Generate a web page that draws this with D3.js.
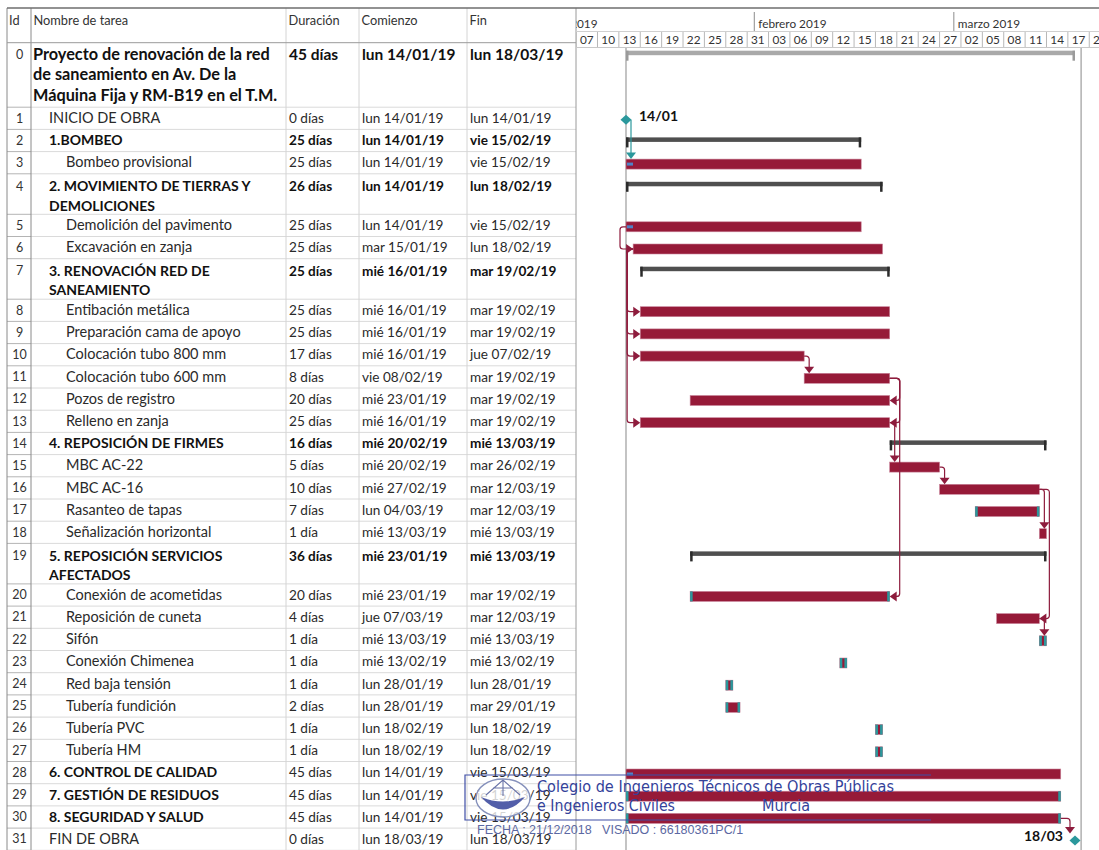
<!DOCTYPE html>
<html>
<head>
<meta charset="utf-8">
<script src="https://cdn.jsdelivr.net/npm/d3@7"></script>
<style>
  body { margin: 0; background: #fff; }
  svg { display: block; font-family: Lato, "Open Sans", sans-serif; }
</style>
</head>
<body>
<div id="page"></div>
<script>
// ---- data ----
const names = [
  "Proyecto de renovación de la red\nde saneamiento en Av. De la\nMáquina Fija y RM-B19 en el T.M.",
  "INICIO DE OBRA", "1.BOMBEO", "Bombeo provisional",
  "2. MOVIMIENTO DE TIERRAS Y\nDEMOLICIONES", "Demolición del pavimento", "Excavación en zanja",
  "3. RENOVACIÓN RED DE\nSANEAMIENTO", "Entibación metálica", "Preparación cama de apoyo",
  "Colocación tubo 800 mm", "Colocación tubo 600 mm", "Pozos de registro", "Relleno en zanja",
  "4. REPOSICIÓN DE FIRMES", "MBC AC-22", "MBC AC-16", "Rasanteo de tapas", "Señalización horizontal",
  "5. REPOSICIÓN SERVICIOS\nAFECTADOS", "Conexión de acometidas", "Reposición de cuneta", "Sifón",
  "Conexión Chimenea", "Red baja tensión", "Tubería fundición", "Tubería PVC", "Tubería HM",
  "6. CONTROL DE CALIDAD", "7. GESTIÓN DE RESIDUOS", "8. SEGURIDAD Y SALUD", "FIN DE OBRA"
];
const levels = [0,1,1,2,1,2,2,1,2,2,2,2,2,2,1,2,2,2,2,1,2,2,2,2,2,2,2,2,1,1,1,1];
const durations = [
  "45 días","0 días","25 días","25 días","26 días","25 días","25 días","25 días","25 días","25 días",
  "17 días","8 días","20 días","25 días","16 días","5 días","10 días","7 días","1 día","36 días",
  "20 días","4 días","1 día","1 día","1 día","2 días","1 día","1 día","45 días","45 días","45 días","0 días"
];
const starts = [
  "lun 14/01/19","lun 14/01/19","lun 14/01/19","lun 14/01/19","lun 14/01/19","lun 14/01/19","mar 15/01/19",
  "mié 16/01/19","mié 16/01/19","mié 16/01/19","mié 16/01/19","vie 08/02/19","mié 23/01/19","mié 16/01/19",
  "mié 20/02/19","mié 20/02/19","mié 27/02/19","lun 04/03/19","mié 13/03/19","mié 23/01/19","mié 23/01/19",
  "jue 07/03/19","mié 13/03/19","mié 13/02/19","lun 28/01/19","lun 28/01/19","lun 18/02/19","lun 18/02/19",
  "lun 14/01/19","lun 14/01/19","lun 14/01/19","lun 18/03/19"
];
const finishes = [
  "lun 18/03/19","lun 14/01/19","vie 15/02/19","vie 15/02/19","lun 18/02/19","vie 15/02/19","lun 18/02/19",
  "mar 19/02/19","mar 19/02/19","mar 19/02/19","jue 07/02/19","mar 19/02/19","mar 19/02/19","mar 19/02/19",
  "mié 13/03/19","mar 26/02/19","mar 12/03/19","mar 12/03/19","mié 13/03/19","mié 13/03/19","mar 19/02/19",
  "mar 12/03/19","mié 13/03/19","mié 13/02/19","lun 28/01/19","mar 29/01/19","lun 18/02/19","lun 18/02/19",
  "vie 15/03/19","vie 15/03/19","vie 15/03/19","lun 18/03/19"
];
const summaryRows = [0, 2, 4, 7, 14, 19];
const boldNameRows = [28, 29, 30];
const tealEndRows = [17, 20, 22, 23, 24, 25, 26, 27, 29, 30];
const progressRows = [3, 5, 28];
const links = [
  [1, 3, "FS"], [5, 6, "SS"], [6, 8, "SS"], [6, 9, "SS"], [6, 10, "SS"], [6, 13, "SS"],
  [10, 11, "FS"], [11, 12, "FF"], [11, 13, "FF"], [11, 20, "FF"], [13, 15, "FS"],
  [15, 16, "FS"], [16, 18, "FS"], [16, 21, "FF"], [21, 22, "FS"], [30, 31, "FS"]
];
const dayTicks = [
  "07/01/19","10/01/19","13/01/19","16/01/19","19/01/19","22/01/19","25/01/19","28/01/19","31/01/19",
  "03/02/19","06/02/19","09/02/19","12/02/19","15/02/19","18/02/19","21/02/19","24/02/19","27/02/19",
  "02/03/19","05/03/19","08/03/19","11/03/19","14/03/19","17/03/19","20/03/19"
];
const monthStarts = ["01/01/19", "01/02/19", "01/03/19"];
const monthLabels = ["enero 2019", "febrero 2019", "marzo 2019"];
const headers = ["Id", "Nombre de tarea", "Duración", "Comienzo", "Fin"];

// ---- layout ----
const width = 1099, height = 850;
const parse = d3.timeParse("%d/%m/%y");
const dateOf = s => parse(s.split(" ")[1]);

const colX = [7, 31, 286, 359, 467, 576];   // column borders
const indent = [33, 49, 66];
const headTop = 8, headBottom = 42.7;
const rowH = {1: 22.2, 2: 40.5, 3: 64.5};

let yAcc = headBottom;
const rows = names.map((n, i) => {
  const lines = n.split("\n");
  const start = dateOf(starts[i]);
  const milestone = durations[i].startsWith("0 ");
  const end = milestone ? start : d3.timeDay.offset(dateOf(finishes[i]), 1);
  const r = {id: i, lines, start, end, milestone, top: yAcc, h: rowH[lines.length],
             summary: summaryRows.includes(i)};
  yAcc += r.h;
  return r;
});
// project summary ends on the final milestone
rows[0].end = d3.max(rows.slice(1), r => r.end);

const x = d3.scaleTime()
  .domain([parse("14/01/19"), parse("18/03/19")])
  .range([626, 1075]);

const svg = d3.select('#page')
  .append('svg')
  .attr('width', width)
  .attr('height', height);

svg.append('defs').append('clipPath').attr('id', 'chartClip')
  .append('rect').attr('x', colX[5]).attr('y', 0).attr('width', width - colX[5]).attr('height', height);

// ---- table grid ----
const grid = svg.append('g');
rows.forEach(r => {
  grid.append('line').attr('x1', colX[1]).attr('x2', colX[5])
      .attr('y1', r.top + r.h).attr('y2', r.top + r.h)
      .attr('stroke', '#dadada');
  grid.append('line').attr('x1', colX[0]).attr('x2', colX[1])
      .attr('y1', r.top + r.h).attr('y2', r.top + r.h)
      .attr('stroke', '#b4b4b4');
});
[2, 3, 4].forEach(c => {
  grid.append('line').attr('x1', colX[c]).attr('x2', colX[c])
      .attr('y1', headTop).attr('y2', height).attr('stroke', '#d4d4d4');
});
[0, 1].forEach(c => {
  grid.append('line').attr('x1', colX[c]).attr('x2', colX[c])
      .attr('y1', headTop).attr('y2', height).attr('stroke', '#8a8a8a');
});
grid.append('line').attr('x1', colX[5]).attr('x2', colX[5])
    .attr('y1', headTop).attr('y2', height).attr('stroke', '#9a9a9a');
grid.append('line').attr('x1', colX[0]).attr('x2', width)
    .attr('y1', headTop).attr('y2', headTop).attr('stroke', '#6e6e6e').attr('stroke-width', 1.3);
grid.append('line').attr('x1', colX[0]).attr('x2', colX[5])
    .attr('y1', headBottom).attr('y2', headBottom).attr('stroke', '#9a9a9a');

// header texts
svg.append('g').selectAll('text')
  .data(headers)
  .enter()
  .append('text')
  .attr('x', (d, i) => colX[i] + (i === 0 ? 2 : 2.5))
  .attr('y', 25)
  .attr('font-size', 12.8)
  .attr('fill', '#333')
  .text(d => d);

// ---- table cells ----
const cell = svg.append('g').selectAll('g')
  .data(rows)
  .enter()
  .append('g');

const isBoldName = r => r.summary || boldNameRows.includes(r.id);
const lineY = (r, k) => r.lines.length === 1 ? r.top + 15.8 : r.top + 17.2 + k * (r.id === 0 ? 20.5 : 19.5);

cell.append('text')
  .attr('x', 19.5)
  .attr('y', r => lineY(r, 0) - 0.5)
  .attr('text-anchor', 'middle')
  .attr('font-size', 12.5)
  .attr('fill', '#333')
  .text(r => r.id);

cell.append('text')
  .attr('font-size', r => r.id === 0 ? 16.3 : (isBoldName(r) ? 14 : 14.5))
  .attr('font-weight', r => isBoldName(r) ? 700 : 400)
  .attr('fill', r => isBoldName(r) ? '#111' : '#2a2a2a')
  .selectAll('tspan')
  .data(r => r.lines.map((t, k) => ({r, t, k})))
  .enter()
  .append('tspan')
  .attr('x', d => indent[levels[d.r.id]])
  .attr('y', d => lineY(d.r, d.k))
  .text(d => d.t);

[durations, starts, finishes].forEach((col, c) => {
  cell.append('text')
    .attr('x', colX[c + 2] + 3)
    .attr('y', r => lineY(r, 0))
    .attr('font-size', r => r.id === 0 ? 15.5 : 13.6)
    .attr('font-weight', r => r.summary ? 700 : 400)
    .attr('fill', r => r.summary ? '#111' : '#2a2a2a')
    .text(r => col[r.id]);
});

// ---- timescale header ----
const chart = svg.append('g').attr('clip-path', 'url(#chartClip)');
const months = monthStarts.map((m, i) => ({d: parse(m), label: monthLabels[i]}));
chart.selectAll('.mline').data(months).enter().append('line')
  .attr('x1', d => x(d.d)).attr('x2', d => x(d.d))
  .attr('y1', 12).attr('y2', 31).attr('stroke', '#8c8c8c');
chart.selectAll('.mtext').data(months).enter().append('text')
  .attr('x', d => x(d.d) + 4).attr('y', 28)
  .attr('font-size', 11.8).attr('fill', '#333')
  .text(d => d.label);
chart.append('line').attr('x1', colX[5]).attr('x2', width)
  .attr('y1', 31.5).attr('y2', 31.5).attr('stroke', '#d0d0d0');
chart.append('line').attr('x1', colX[5]).attr('x2', width)
  .attr('y1', 47.5).attr('y2', 47.5).attr('stroke', '#c8c8c8');

const days = dayTicks.map(parse);
chart.selectAll('.dline').data(days).enter().append('line')
  .attr('x1', d => x(d)).attr('x2', d => x(d))
  .attr('y1', 32).attr('y2', 47).attr('stroke', '#b8b8b8');
chart.selectAll('.dtext').data(days).enter().append('text')
  .attr('x', d => x(d3.timeHour.offset(d, 36)))
  .attr('y', 44)
  .attr('text-anchor', 'middle')
  .attr('font-size', 11.8).attr('fill', '#333')
  .text(d3.timeFormat('%d'));

// project start / finish lines
[x(rows[0].start), x(d3.timeDay.offset(rows[0].end, 1)) - 1].forEach(px => {
  chart.append('line').attr('x1', px).attr('x2', px)
    .attr('y1', 48).attr('y2', height).attr('stroke', '#b5b5b5').attr('stroke-width', 1.6);
});

// ---- bars ----
const crimson = '#961a38', teal = '#2b989c', linkCol = '#8e1c3d';
const barTop = r => r.top + 7.5;
const barMid = r => r.top + 12.5;

const bars = chart.append('g');
rows.filter(r => r.summary).forEach(r => {
  const c = r.id === 0 ? '#a9a9a9' : '#4f4f4f';
  const cap = r.id === 0 ? '#9a9a9a' : '#2b2b2b';
  bars.append('rect')
    .attr('x', x(r.start)).attr('y', r.top + 8)
    .attr('width', x(r.end) - x(r.start)).attr('height', 4.5)
    .attr('fill', c);
  [x(r.start), x(r.end) - 2.5].forEach(px => {
    bars.append('rect').attr('x', px).attr('y', r.top + 8)
      .attr('width', 2.5).attr('height', 10).attr('fill', cap);
  });
});

rows.filter(r => !r.summary && !r.milestone).forEach(r => {
  bars.append('rect')
    .attr('x', x(r.start)).attr('y', barTop(r))
    .attr('width', x(r.end) - x(r.start)).attr('height', 10)
    .attr('fill', crimson)
    .attr('stroke', '#c9849a').attr('stroke-width', 0.6);
  if (tealEndRows.includes(r.id)) {
    [x(r.start), x(r.end) - 2.5].forEach(px => {
      bars.append('rect').attr('x', px).attr('y', barTop(r))
        .attr('width', 2.5).attr('height', 10).attr('fill', teal);
    });
  }
  if (progressRows.includes(r.id)) {
    bars.append('rect').attr('x', x(r.start) + 1).attr('y', barMid(r) - 1.5)
      .attr('width', 6).attr('height', 3).attr('fill', '#4f82c6');
  }
});

// ---- links ----
function roundPath(pts, rad) {
  const p = d3.path();
  p.moveTo(pts[0][0], pts[0][1]);
  for (let i = 1; i < pts.length - 1; i++) p.arcTo(pts[i][0], pts[i][1], pts[i + 1][0], pts[i + 1][1], rad);
  p.lineTo(pts[pts.length - 1][0], pts[pts.length - 1][1]);
  return p.toString();
}
const linkG = chart.append('g');
links.forEach(([a, b, type]) => {
  const ra = rows[a], rb = rows[b];
  const col = ra.milestone ? teal : linkCol;
  let pts, head;
  if (type === 'SS') {
    const xa = x(ra.start), xb = x(rb.start), xv = xa - 6;
    pts = [[xa, barMid(ra)], [xv, barMid(ra)], [xv, barMid(rb)], [xb - 6, barMid(rb)]];
    head = [[xb, barMid(rb)], [xb - 7, barMid(rb) - 5], [xb - 7, barMid(rb) + 5]];
  } else if (type === 'FF') {
    const xa = x(ra.end), xb = x(rb.end), xv = xa + 10;
    pts = [[xa, barMid(ra)], [xv, barMid(ra)], [xv, barMid(rb)], [xb + 6, barMid(rb)]];
    head = [[xb, barMid(rb)], [xb + 7, barMid(rb) - 5], [xb + 7, barMid(rb) + 5]];
  } else {
    const xa = ra.milestone ? x(ra.end) + 5 : x(ra.end);
    const xv = rb.milestone ? x(rb.start) - 5 : x(ra.end) + 5;
    const tip = rb.milestone ? barMid(rb) - 7 : barTop(rb);
    pts = ra.milestone ? [[xv, barMid(ra)], [xv, tip - 5]]
                       : [[xa, barMid(ra)], [xv, barMid(ra)], [xv, tip - 5]];
    head = [[xv, tip], [xv - 5, tip - 6.5], [xv + 5, tip - 6.5]];
  }
  linkG.append('path').attr('d', roundPath(pts, 3))
    .attr('fill', 'none').attr('stroke', col).attr('stroke-width', 1.2);
  linkG.append('path').attr('d', 'M' + head.join('L') + 'Z').attr('fill', col);
});

// ---- milestones ----
rows.filter(r => r.milestone).forEach(r => {
  const cx = x(r.start), cy = barMid(r);
  chart.append('path')
    .attr('d', `M${cx - 5.5},${cy}L${cx},${cy - 5}L${cx + 5.5},${cy}L${cx},${cy + 5}Z`)
    .attr('fill', teal);
  const last = r.id === rows.length - 1;
  chart.append('text')
    .attr('x', last ? cx - 12 : cx + 13)
    .attr('y', cy + (last ? 0 : 1.5))
    .attr('text-anchor', last ? 'end' : 'start')
    .attr('font-size', 14).attr('font-weight', 700).attr('fill', '#111')
    .text(d3.timeFormat('%d/%m')(r.start));
});

// ---- visado stamp ----
const stamp = svg.append('g');
const blue = '#34429a';
stamp.append('path').attr('d', 'M931,775H465V820H931')
  .attr('fill', 'none').attr('stroke', '#3f4ea6').attr('stroke-width', 1.2);
stamp.append('ellipse').attr('cx', 503).attr('cy', 798).attr('rx', 27).attr('ry', 19)
  .attr('fill', 'rgba(255,255,255,0.8)').attr('stroke', '#8590bb').attr('stroke-width', 1.4);
stamp.append('path').attr('d', 'M481,797 Q503,822 525,797 Q503,806 481,797Z')
  .attr('fill', blue).attr('opacity', 0.85);
stamp.append('path').attr('d', 'M486,795 L503,780 L520,795 M503,780 L503,796 M493,788 L513,788')
  .attr('fill', 'none').attr('stroke', '#6a74a8').attr('stroke-width', 1.1);
stamp.append('text').attr('x', 537).attr('y', 792)
  .attr('font-family', 'DejaVu Sans').attr('font-size', 15.5).attr('fill', blue)
  .attr('textLength', 357).attr('lengthAdjust', 'spacingAndGlyphs')
  .text('Colegio de Ingenieros Técnicos de Obras Públicas');
stamp.append('text').attr('x', 537).attr('y', 811)
  .attr('font-family', 'DejaVu Sans').attr('font-size', 15.5).attr('fill', blue)
  .attr('textLength', 138).attr('lengthAdjust', 'spacingAndGlyphs')
  .text('e Ingenieros Civiles');
stamp.append('text').attr('x', 762).attr('y', 811)
  .attr('font-family', 'DejaVu Sans').attr('font-size', 15.5).attr('fill', blue)
  .attr('textLength', 48).attr('lengthAdjust', 'spacingAndGlyphs')
  .text('Murcia');
stamp.append('text').attr('x', 477).attr('y', 834)
  .attr('font-family', 'Liberation Sans').attr('font-size', 12.5).attr('fill', '#5b68a2')
  .attr('xml:space', 'preserve')
  .text('FECHA : 21/12/2018   VISADO : 66180361PC/1');
</script>
</body>
</html>
